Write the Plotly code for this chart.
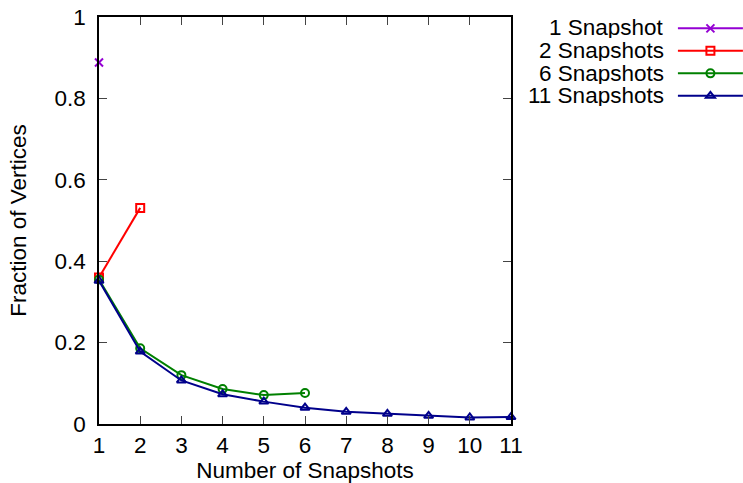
import plotly.graph_objects as go

series_names = ["1 Snapshot", "2 Snapshots", "6 Snapshots", "11 Snapshots"]
x_1 = [1]
y_1 = [0.888]
x_2 = [1, 2]
y_2 = [0.360, 0.531]
x_6 = [1, 2, 3, 4, 5, 6]
y_6 = [0.355, 0.186, 0.120, 0.086, 0.071, 0.076]
x_11 = [1, 2, 3, 4, 5, 6, 7, 8, 9, 10, 11]
y_11 = [0.352, 0.178, 0.107, 0.073, 0.055, 0.040, 0.030, 0.025, 0.020, 0.016, 0.017]
x_ticks = list(range(1, 12))
y_ticks = [0, 0.2, 0.4, 0.6, 0.8, 1]

colors = ["#9400D3", "#FF0000", "#008000", "#00008B"]
symbols = ["x-thin-open", "square-open", "circle-open", "triangle-up-open"]
xs = [x_1, x_2, x_6, x_11]
ys = [y_1, y_2, y_6, y_11]

FONT = "Liberation Sans, Arial, sans-serif"
FS = 22.5

fig = go.Figure()
for name, xv, yv, c, s in zip(series_names, xs, ys, colors, symbols):
    fig.add_trace(go.Scatter(
        x=xv, y=yv, mode="lines+markers", name=" ",
        line=dict(color=c, width=2),
        marker=dict(symbol=s, size=8, color=c, line=dict(color=c, width=2)),
        cliponaxis=False,
    ))

annotations = []
for i, name in enumerate(series_names):
    annotations.append(dict(
        xref="paper", yref="paper", x=1.374, y=(424 - 28 - i * 22.5) / 407,
        text=name, showarrow=False, xanchor="right", yanchor="middle",
        height=21, valign="middle", borderpad=0,
        font=dict(family=FONT, size=FS, color="black"),
    ))

fig.update_layout(
    width=743, height=483,
    margin=dict(l=99, r=232, t=17, b=59, autoexpand=False),
    paper_bgcolor="white", plot_bgcolor="white",
    font=dict(family=FONT, size=FS, color="black"),
    showlegend=True,
    legend=dict(x=1.393, y=1.012, xanchor="left", yanchor="top",
                font=dict(family=FONT, size=15), tracegroupgap=0,
                bgcolor="rgba(0,0,0,0)", itemwidth=65),
    annotations=annotations,
    xaxis=dict(range=[1, 11], tickvals=x_ticks, ticks="inside", ticklen=8,
               showline=True, linecolor="black", linewidth=1.5, mirror="ticks",
               showgrid=False, zeroline=False,
               title=dict(text="Number of Snapshots", standoff=0,
                          font=dict(family=FONT, size=FS))),
    yaxis=dict(range=[0, 1], tickvals=y_ticks, ticks="inside", ticklen=8,
               showline=True, linecolor="black", linewidth=1.5, mirror="ticks",
               showgrid=False, zeroline=False, ticklabelstandoff=7,
               title=dict(text="Fraction of Vertices", standoff=22,
                          font=dict(family=FONT, size=FS))),
)

fig.write_html("out.html", config={"displayModeBar": False},
               post_script="document.body.style.margin='0';document.body.style.padding='0';")
